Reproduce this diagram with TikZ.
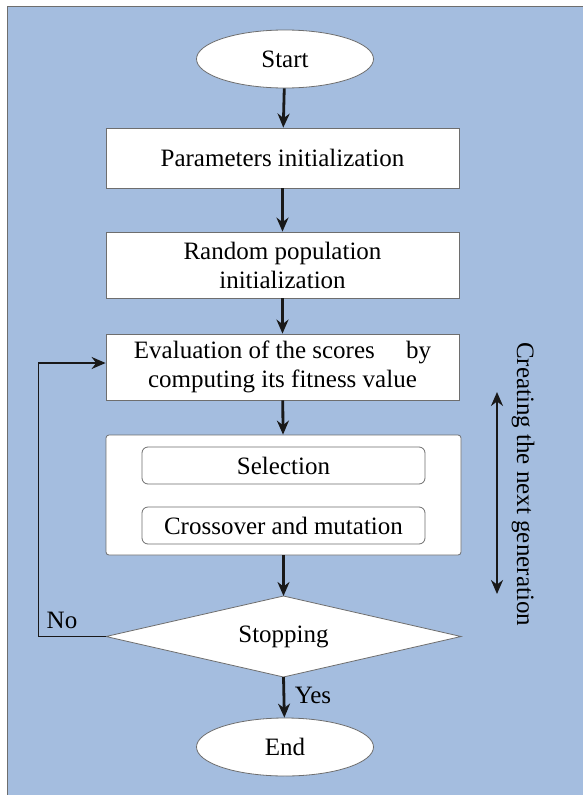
\documentclass[tikz,border=0pt]{standalone}
\usepackage{fontspec}
\setmainfont{Liberation Serif}
\usetikzlibrary{shapes.geometric,arrows.meta}
\definecolor{bgblue}{RGB}{164,189,223}
\definecolor{edgegray}{RGB}{110,110,110}
\tikzset{
  txt/.style={font=\fontsize{25}{29}\selectfont},
  stepbox/.style={txt, draw=edgegray, line width=0.8pt, fill=white, minimum width=353pt, minimum height=60pt, inner sep=0pt, align=center},
  innerbox/.style={txt, draw=edgegray, line width=0.8pt, fill=white, rounded corners=6pt, minimum width=283pt, minimum height=37pt, inner sep=0pt},
  terminal/.style={txt, ellipse, draw=edgegray, line width=0.8pt, fill=white, minimum width=177pt, minimum height=58pt, inner sep=0pt},
  flow/.style={line width=2.8pt, draw=black!90, -{Stealth[length=14pt,width=12pt]}},
  lbl/.style={txt, inner sep=0pt}
}
\begin{document}
\begin{tikzpicture}[x=1pt,y=-1pt]
\useasboundingbox (0,0) rectangle (582,795);
\fill[bgblue, draw=edgegray, line width=0.8pt] (7,6) rectangle (584,797);
\node[terminal] (start) at (285,59) {Start};
\node[stepbox] (params) at (282.5,158) {Parameters initialization};
\node[stepbox, minimum height=66pt] (rand) at (282.5,265) {Random population\\initialization};
\node[stepbox, minimum height=66pt] (eval) at (282.5,367) {Evaluation of the scores\quad\ by\\computing its fitness value};
\node[stepbox, minimum width=355pt, minimum height=120pt, rounded corners=3pt] (gen) at (283.5,495) {};
\node[innerbox] (sel) at (283.5,465.5) {Selection};
\node[innerbox] (cross) at (283.5,525.5) {Crossover and mutation};
% decision diamond
\coordinate (stopn) at (283.5,596);
\coordinate (stops) at (283.5,677);
\coordinate (stopw) at (106,636.5);
\coordinate (stope) at (461,636.5);
\draw[edgegray, line width=0.8pt, fill=white] (stopn) -- (stope) -- (stops) -- (stopw) -- cycle;
\node[lbl] (stop) at (283.5,637) {Stopping};
\node[terminal] (end) at (285,747) {End};
\draw[flow] (start) -- (params);
\draw[flow] (params) -- (rand);
\draw[flow] (rand) -- (eval);
\draw[flow] (eval) -- (gen);
\draw[flow] (gen) -- (stopn);
\draw[flow] (stops) -- (end);
\coordinate (lp) at (38,636.5);
\coordinate (lq) at (38,363);
\draw[line width=0.9pt, black!90] (stopw) -- (lp) -- (lq);
\draw[line width=2pt, black!90, -{Stealth[length=14pt,width=12pt]}] (lq) -- (eval.west |- lq);
\node[lbl] (no) at (62,620) {No};
\node[lbl] (yes) at (313,695) {Yes};
\coordinate (ga) at (497,392);
\coordinate (gb) at (497,594);
\draw[line width=2.8pt, black!90, {Stealth[length=14pt,width=12pt]}-{Stealth[length=14pt,width=12pt]}] (ga) -- (gb);
\node[lbl, rotate=-90] (crt) at (523,484) {Creating the next generation};
\end{tikzpicture}
\end{document}
